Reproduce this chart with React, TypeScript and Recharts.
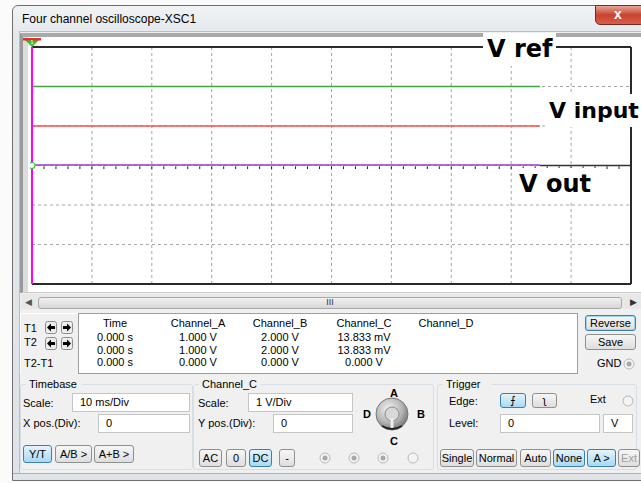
import React from "react";
import {
  LineChart,
  Line,
  XAxis,
  YAxis,
  CartesianGrid,
  ReferenceLine,
  ReferenceDot,
} from "recharts";

// readings off the scope screen (ms, V)
const timeMs = [0, 84.8];
const channelA = [1.0, 1.0]; // V input
const channelB = [2.0, 2.0]; // V ref
const channelC = [0.013833, 0.013833]; // V out

const timeTicks = [0, 10, 20, 30, 40, 50, 60, 70, 80, 90, 100];
const voltTicks = [-3, -2, -1, 0, 1, 2, 3];
const minorTicks = Array.from({ length: 51 }, (_, i) => i * 2);

const readoutHeaders = ["Time", "Channel_A", "Channel_B", "Channel_C", "Channel_D"];
const readoutT1 = ["0.000 s", "1.000 V", "2.000 V", "13.833 mV", ""];
const readoutT2 = ["0.000 s", "1.000 V", "2.000 V", "13.833 mV", ""];
const readoutDiff = ["0.000 s", "0.000 V", "0.000 V", "0.000 V", ""];

const colCenters = [115, 198, 280, 364, 446];
const rowCenters = [323, 337, 350, 362];

const data = timeMs.map((t, i) => ({
  t,
  a: channelA[i],
  b: channelB[i],
  c: channelC[i],
}));

const UI = '"Liberation Sans", Arial, sans-serif';

type TxtProps = {
  x: number;
  y: number;
  children: React.ReactNode;
  size?: number;
  center?: boolean;
  color?: string;
  bold?: boolean;
};

function Txt({ x, y, children, size = 11, center, color = "#000", bold }: TxtProps) {
  return (
    <div
      style={{
        position: "absolute",
        left: center ? x - 60 : x,
        width: center ? 120 : undefined,
        textAlign: center ? "center" : "left",
        top: y - 7,
        height: 14,
        lineHeight: "14px",
        fontSize: size,
        fontFamily: UI,
        fontWeight: bold ? 700 : 400,
        color,
        whiteSpace: "nowrap",
      }}
    >
      {children}
    </div>
  );
}

type BoxProps = {
  x: number;
  y: number;
  w: number;
  h: number;
  style?: React.CSSProperties;
  children?: React.ReactNode;
};

function Box({ x, y, w, h, style, children }: BoxProps) {
  return (
    <div
      style={{
        position: "absolute",
        left: x,
        top: y,
        width: w,
        height: h,
        boxSizing: "border-box",
        ...style,
      }}
    >
      {children}
    </div>
  );
}

function Btn({
  x,
  y,
  w,
  h,
  label,
  active,
  focused,
  disabled,
}: {
  x: number;
  y: number;
  w: number;
  h: number;
  label: string;
  active?: boolean;
  focused?: boolean;
  disabled?: boolean;
}) {
  return (
    <Box
      x={x}
      y={y}
      w={w}
      h={h}
      style={{
        border: `1px solid ${active || focused ? "#3c7fb1" : "#8e8f8f"}`,
        boxShadow: focused ? "0 0 0 1px #9fd4f2 inset" : undefined,
        borderRadius: 3,
        background: active
          ? "linear-gradient(#e5f4fc, #a7d9f5)"
          : "linear-gradient(#f6f6f6, #dedede)",
        fontFamily: UI,
        fontSize: 11,
        color: disabled ? "#a0a0a0" : "#000",
        textAlign: "center",
        lineHeight: `${h - 2}px`,
      }}
    >
      {label}
    </Box>
  );
}

function Field({ x, y, w, h, value }: { x: number; y: number; w: number; h: number; value: string }) {
  return (
    <Box
      x={x}
      y={y}
      w={w}
      h={h}
      style={{
        background: "#fff",
        border: "1px solid #c5c5c5",
        fontFamily: UI,
        fontSize: 11,
        lineHeight: `${h - 2}px`,
        paddingLeft: 7,
      }}
    >
      {value}
    </Box>
  );
}

function Radio({ x, y, filled = true }: { x: number; y: number; filled?: boolean }) {
  return (
    <svg style={{ position: "absolute", left: x - 6, top: y - 6 }} width={12} height={12}>
      <circle cx={6} cy={6} r={5} fill="#f4f4f4" stroke="#b8b8b8" />
      {filled && <circle cx={6} cy={6} r={2.5} fill="#a8a8a8" />}
    </svg>
  );
}

function ArrowBtn({ x, y, dir }: { x: number; y: number; dir: "l" | "r" }) {
  return (
    <svg style={{ position: "absolute", left: x, top: y }} width={12} height={13}>
      <rect x={0.5} y={0.5} width={11} height={12} rx={2} fill="#ececec" stroke="#8e8e8e" />
      {dir === "l" ? (
        <path d="M2 6.5 L6 2.5 L6 5 L10 5 L10 8 L6 8 L6 10.5 Z" fill="#000" />
      ) : (
        <path d="M10 6.5 L6 2.5 L6 5 L2 5 L2 8 L6 8 L6 10.5 Z" fill="#000" />
      )}
    </svg>
  );
}

function Group({ x, y, w, h, title }: { x: number; y: number; w: number; h: number; title: string }) {
  return (
    <>
      <Box x={x} y={y} w={w} h={h} style={{ border: "1px solid #d8dfe4", borderRadius: 3 }} />
      <Box
        x={x + 6}
        y={y - 6}
        w={title.length * 6.2 + 6}
        h={12}
        style={{ background: "#f0f0f0" }}
      />
      <Txt x={x + 9} y={y}>
        {title}
      </Txt>
    </>
  );
}

function Tag({
  x,
  y,
  w,
  h,
  text,
  size = 24,
}: {
  x: number;
  y: number;
  w: number;
  h: number;
  text: string;
  size?: number;
}) {
  return (
    <Box
      x={x}
      y={y}
      w={w}
      h={h}
      style={{
        background: "#fff",
        fontFamily: '"DejaVu Sans", sans-serif',
        fontWeight: 700,
        fontSize: size,
        lineHeight: `${h}px`,
        paddingLeft: 4,
        color: "#000",
        whiteSpace: "nowrap",
      }}
    >
      {text}
    </Box>
  );
}

function Scope() {
  const tEnd = timeMs[timeMs.length - 1];
  return (
    <div style={{ position: "absolute", left: 30, top: 45 }}>
      <LineChart
        width={603}
        height={241}
        data={data}
        margin={{ top: 2, right: 2, bottom: 2, left: 2 }}
      >
        <CartesianGrid stroke="#a6a6a6" strokeDasharray="3 3" />
        <XAxis dataKey="t" type="number" domain={[0, 100]} ticks={timeTicks} hide />
        <YAxis type="number" domain={[-3, 3]} ticks={voltTicks} hide />
        <ReferenceLine segment={[{ x: tEnd, y: 0 }, { x: 100, y: 0 }]} stroke="#333" strokeWidth={1.5} />
        <Line type="linear" dataKey="b" stroke="#3fa73f" strokeWidth={1.6} dot={false} isAnimationActive={false} />
        <Line type="linear" dataKey="a" stroke="#ff4d4d" strokeWidth={1.6} dot={false} isAnimationActive={false} />
        <Line type="linear" dataKey="c" stroke="#9c39c9" strokeWidth={1.6} dot={false} isAnimationActive={false} />
        {minorTicks.map((m) => (
          <ReferenceLine
            key={m}
            segment={[{ x: m, y: -0.02 }, { x: m, y: -0.09 }]}
            stroke="#222"
            strokeWidth={1}
          />
        ))}
        <ReferenceLine y={3} stroke="#2a2a2a" strokeWidth={2} />
        <ReferenceLine y={-3} stroke="#2a2a2a" strokeWidth={2} />
        <ReferenceLine x={100} stroke="#2a2a2a" strokeWidth={2} />
        <ReferenceLine x={0} stroke="#ff00ff" strokeWidth={2} />
        <ReferenceDot x={0} y={0} r={3} fill="#fff" stroke="#3fbf3f" strokeWidth={1.2} />
      </LineChart>
    </div>
  );
}

export default function App() {
  const rows = [readoutHeaders, readoutT1, readoutT2, readoutDiff];
  return (
    <div
      style={{
        position: "absolute",
        left: 0,
        top: 0,
        width: 641,
        height: 483,
        overflow: "hidden",
        background: "#fbfbfb",
      }}
    >
      {/* window frame */}
      <Box
        x={12}
        y={5}
        w={640}
        h={476}
        style={{
          border: "1px solid #6f6f6f",
          borderRadius: "6px 6px 0 0",
          background: "linear-gradient(#f1f3f5, #e3e8ec 30px, #dde3e8)",
        }}
      />
      <Txt x={22} y={19} size={12}>
        Four channel oscilloscope-XSC1
      </Txt>
      <Box
        x={595}
        y={5}
        w={50}
        h={20}
        style={{
          border: "1px solid #7a2a22",
          borderRadius: "0 0 5px 5px",
          background: "linear-gradient(#e9a69a, #c7432f 50%, #d8604a)",
          color: "#fff",
          fontFamily: UI,
          fontWeight: 700,
          fontSize: 14,
          lineHeight: "17px",
          paddingLeft: 18,
        }}
      >
        x
      </Box>
      {/* client */}
      <Box x={19} y={31} w={630} h={444} style={{ background: "#f0f0f0", border: "1px solid #b9bec3" }} />
      {/* plot frame */}
      <Box
        x={20}
        y={33}
        w={630}
        h={260}
        style={{
          background: "#fff",
          borderTop: "4px solid #a9a9a9",
          borderLeft: "3px solid #9a9a9a",
          borderBottom: "1px solid #c9c9c9",
        }}
      />
      <Box x={23} y={37} w={5} h={255} style={{ background: "#dcdcdc" }} />
      <Scope />
      {/* cursor handle */}
      <svg style={{ position: "absolute", left: 23, top: 38 }} width={18} height={10}>
        <polygon points="0,0 18,0 9,9" fill="#2fbf2f" />
        <rect x={0} y={0} width={18} height={2.5} fill="#e03030" />
        <text x={9} y={6} fontSize={6} textAnchor="middle" fill="#fff" fontFamily={UI}>
          1
        </text>
      </svg>
      {/* annotations */}
      <Tag x={483} y={33} w={73} h={33} text="V ref" />
      <Tag x={545} y={94} w={96} h={33} text="V input" size={22} />
      <Tag x={515} y={168} w={86} h={32} text="V out" />
      {/* scrollbar */}
      <Box x={21} y={294} w={620} h={15} style={{ background: "#e8e8e8" }} />
      <Txt x={25} y={302} size={9} color="#555">
        ◀
      </Txt>
      <Box
        x={38}
        y={297}
        w={584}
        h={12}
        style={{
          border: "1px solid #a8a8a8",
          borderRadius: 3,
          background: "linear-gradient(#f2f2f2, #d6d6d6)",
        }}
      />
      <Txt x={330} y={302} size={9} center color="#333">
        III
      </Txt>
      <Txt x={630} y={302} size={9} color="#333">
        ▶
      </Txt>
      {/* cursor controls */}
      <Box x={20} y={313} w={58} h={61} style={{ borderTop: "1px solid #fff", borderLeft: "1px solid #fff" }} />
      <Txt x={24} y={328}>T1</Txt>
      <Txt x={24} y={342}>T2</Txt>
      <Txt x={24} y={363}>T2-T1</Txt>
      <ArrowBtn x={45} y={321} dir="l" />
      <ArrowBtn x={61} y={321} dir="r" />
      <ArrowBtn x={45} y={337} dir="l" />
      <ArrowBtn x={61} y={337} dir="r" />
      {/* readout table */}
      <Box x={78} y={313} w={500} h={61} style={{ background: "#fff", border: "1px solid #9e9e9e" }} />
      {rows.map((row, r) =>
        row.map((cell, c) =>
          cell ? (
            <Txt key={`${r}-${c}`} x={colCenters[c]} y={rowCenters[r]} center>
              {cell}
            </Txt>
          ) : null,
        ),
      )}
      <Btn x={585} y={315} w={51} h={16} label="Reverse" focused />
      <Btn x={585} y={334} w={51} h={16} label="Save" />
      <Txt x={597} y={363}>GND</Txt>
      <Radio x={629} y={364} />
      {/* Timebase */}
      <Group x={20} y={384} w={173} h={86} title="Timebase" />
      <Txt x={23} y={403}>Scale:</Txt>
      <Field x={72} y={393} w={118} h={19} value="10 ms/Div" />
      <Txt x={23} y={423}>X pos.(Div):</Txt>
      <Field x={98} y={414} w={92} h={19} value="0" />
      <Btn x={23} y={445} w={29} h={18} label="Y/T" active />
      <Btn x={55} y={445} w={37} h={18} label="A/B >" />
      <Btn x={94} y={445} w={40} h={18} label="A+B >" />
      {/* Channel_C */}
      <Group x={193} y={384} w={241} h={86} title="Channel_C" />
      <Txt x={198} y={403}>Scale:</Txt>
      <Field x={248} y={393} w={105} h={19} value="1  V/Div" />
      <Txt x={198} y={423}>Y pos.(Div):</Txt>
      <Field x={273} y={414} w={80} h={19} value="0" />
      <Btn x={199} y={449} w={23} h={18} label="AC" />
      <Btn x={226} y={449} w={20} h={18} label="0" />
      <Btn x={249} y={449} w={23} h={18} label="DC" active />
      <Btn x={279} y={449} w={16} h={18} label="-" />
      <Radio x={325} y={458} />
      <Radio x={354} y={458} />
      <Radio x={383} y={458} />
      <Radio x={413} y={458} filled={false} />
      <svg style={{ position: "absolute", left: 374, top: 396 }} width={36} height={36}>
        <defs>
          <radialGradient id="knob" cx="40%" cy="35%" r="70%">
            <stop offset="0%" stopColor="#f4f4f4" />
            <stop offset="60%" stopColor="#b5b5b5" />
            <stop offset="100%" stopColor="#6e6e6e" />
          </radialGradient>
        </defs>
        <circle cx={18} cy={18} r={16} fill="url(#knob)" stroke="#777" />
        <circle cx={18} cy={18} r={7} fill="#d8d8d8" stroke="#8a8a8a" />
        <rect x={16.5} y={22} width={3} height={11} fill="#eee" />
        <path d="M8 30 Q18 36 28 30" stroke="#222" strokeWidth={2} fill="none" />
      </svg>
      <Txt x={394} y={393} center bold>A</Txt>
      <Txt x={421} y={414} center bold>B</Txt>
      <Txt x={394} y={441} center bold>C</Txt>
      <Txt x={367} y={414} center bold>D</Txt>
      {/* Trigger */}
      <Group x={437} y={384} w={200} h={86} title="Trigger" />
      <Txt x={449} y={401}>Edge:</Txt>
      <Btn x={500} y={393} w={26} h={15} label="⨍" active />
      <Btn x={532} y={393} w={25} h={15} label="ʅ" />
      <Txt x={590} y={399}>Ext</Txt>
      <Radio x={628} y={401} filled={false} />
      <Txt x={449} y={423}>Level:</Txt>
      <Field x={500} y={414} w={100} h={19} value="0" />
      <Field x={603} y={414} w={30} h={19} value="V" />
      <Btn x={440} y={449} w={34} h={18} label="Single" />
      <Btn x={476} y={449} w={41} h={18} label="Normal" />
      <Btn x={520} y={449} w={31} h={18} label="Auto" />
      <Btn x={553} y={449} w={32} h={18} label="None" active />
      <Btn x={587} y={449} w={29} h={18} label="A >" active />
      <Btn x={618} y={449} w={22} h={18} label="Ext" disabled />
      <Box x={13} y={473} w={640} h={4} style={{ borderTop: "1px solid #b0b0b0", background: "#dfe4e9" }} />
    </div>
  );
}
